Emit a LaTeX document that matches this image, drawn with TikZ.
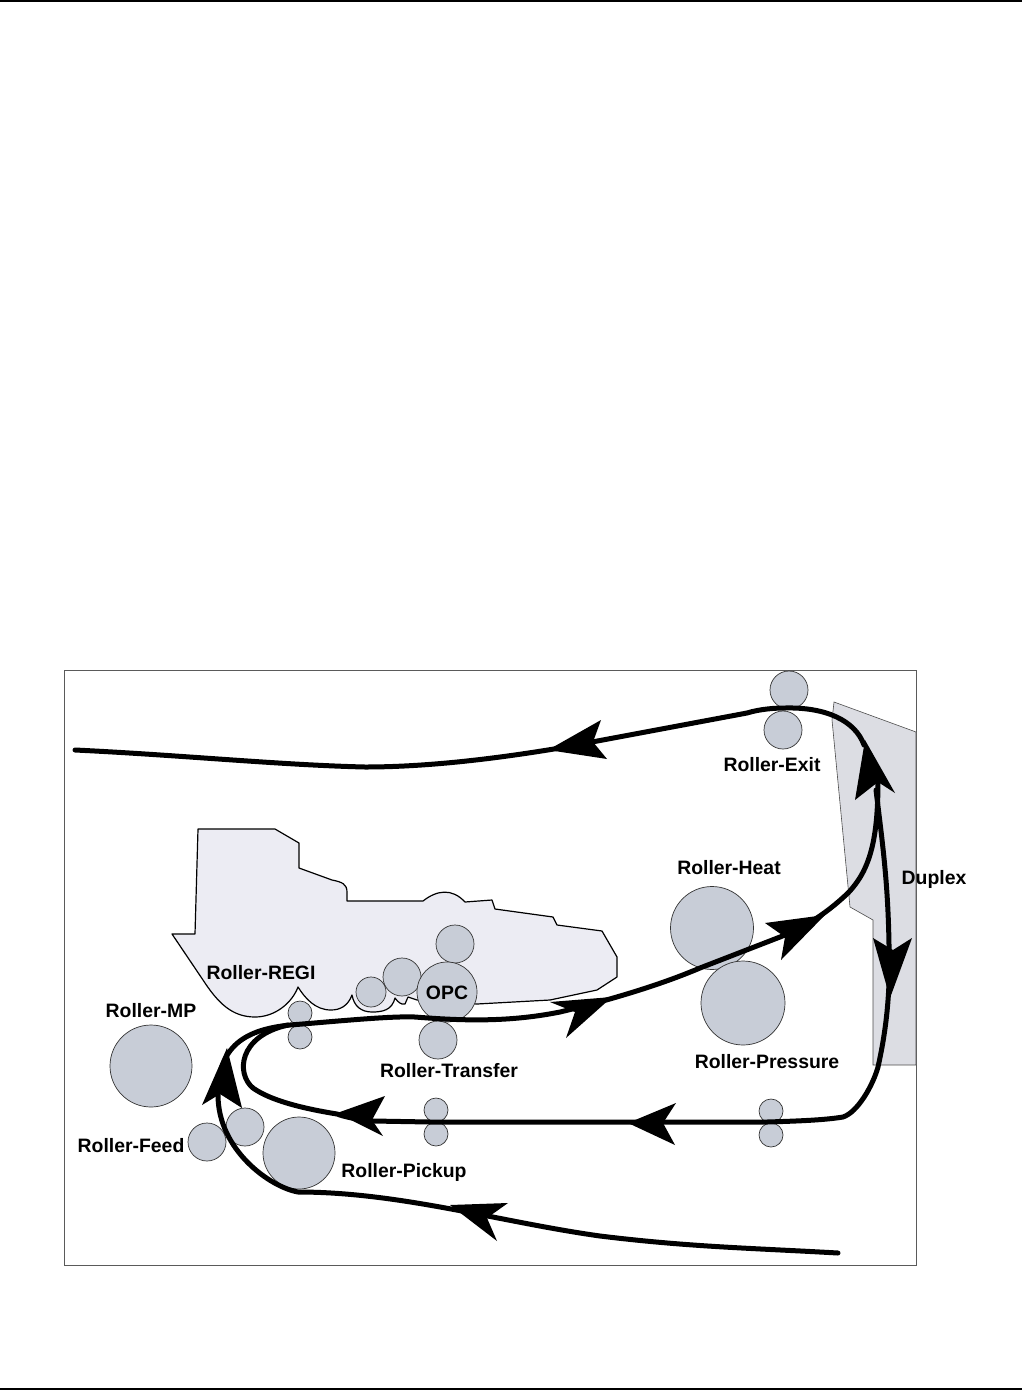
\documentclass[tikz,border=0pt]{standalone}
\usepackage{fontspec}
\setmainfont{Liberation Sans}
\usetikzlibrary{positioning}
\definecolor{roller-gray}{RGB}{200,205,215}
\definecolor{unit-gray}{RGB}{236,236,243}
\definecolor{duplex-gray}{RGB}{220,221,227}
\definecolor{frame-gray}{RGB}{90,90,90}
\begin{document}
\begin{tikzpicture}[
    x=1pt, y=-1pt,
    %% Roller circle, size given per node
    roller/.style = {circle, draw=black!80, fill=roller-gray, line width=0.7pt, inner sep=0pt},
    %% Printed name of a part
    lbl/.style    = {font=\fontsize{19.4}{21}\selectfont\bfseries, inner sep=0pt, align=center},
    %% Housing outlines
    unit/.style   = {draw=black, fill=unit-gray, line width=1.2pt, line join=round},
    duplex/.style = {draw=black!70, fill=duplex-gray, line width=0.6pt},
    %% Paper path and its barbed heads
    flow/.style   = {draw=black, line width=5pt, line cap=round, line join=round},
    barb/.style   = {fill=black},
]
\useasboundingbox (0,0) rectangle (1022,1391);

%% ---- Page rules and frame ----
\draw[line width=1.6pt] (0,1) -- (1022,1);
\draw[line width=1.6pt] (0,1389) -- (1022,1389);
\draw[frame-gray, line width=1pt] (64,670) rectangle (916,1265);

%% ---- Duplex housing ----
\path[duplex] (834,702) -- (916,732) -- (916,1065) -- (873,1065) -- (873,920)
    -- (850,907) -- (832,720) -- cycle;

%% ---- Cartridge housing ----
\path[unit] (198,829) -- (275,829) -- (299,843) -- (299,868) -- (332,880)
    .. controls (342,882) and (347,884) .. (347,892) -- (347,901) -- (423,901)
    .. controls (437,890) and (452,888) .. (465,902)
    -- (492,900) -- (495,909) -- (553,917) -- (557,925) -- (602,931)
    -- (617,957) -- (617,977) -- (597,990) -- (550,1000) -- (477,1004) -- (417,1000)
    -- (408,997) -- (405,1004) .. controls (401,1005) and (398,1002) .. (395,998)
    .. controls (392,1010) and (383,1012) .. (372,1012)
    .. controls (361,1012) and (354,1006) .. (352,995)
    .. controls (348,1006) and (340,1010) .. (331,1010)
    .. controls (315,1010) and (305,998) .. (298,987)
    .. controls (292,1003) and (275,1017) .. (255,1017)
    .. controls (232,1017) and (218,1003) .. (203,980)
    -- (172,934) -- (195,934) -- cycle;

%% ---- Rollers ----
\node[roller, minimum size=38pt] (exitup)   at (789,690)  {};
\node[roller, minimum size=38pt] (exitlow)  at (783,730)  {};
\node[roller, minimum size=83pt] (heat)     at (712,928)  {};
\node[roller, minimum size=84pt] (pressure) at (743,1003) {};
\node[roller, minimum size=38pt] (charge)   at (455,944)  {};
\node[roller, minimum size=38pt] (develop)  at (402,977)  {};
\node[roller, minimum size=30pt] (supply)   at (371,992)  {};
\node[roller, minimum size=38pt] (transfer) at (438,1040) {};
\node[roller, minimum size=60pt] (opc)      at (447,992)  {};
\node[roller, minimum size=24pt] (regiup)   at (300,1013) {};
\node[roller, minimum size=24pt] (regilow)  at (300,1037) {};
\node[roller, minimum size=82pt] (mp)       at (151,1066) {};
\node[roller, minimum size=38pt] (feed)     at (207,1142) {};
\node[roller, minimum size=38pt] (forward)  at (245,1127) {};
\node[roller, minimum size=72pt] (pickup)   at (299,1153) {};
\node[roller, minimum size=24pt] (midup)    at (436,1110) {};
\node[roller, minimum size=24pt] (midlow)   at (436,1134) {};
\node[roller, minimum size=24pt] (rightup)  at (771,1111) {};
\node[roller, minimum size=24pt] (rightlow) at (771,1135) {};

%% ---- Paper paths ----
\draw[flow] (838,1253) .. controls (750,1248) and (690,1247) .. (600,1236)
    .. controls (500,1222) and (400,1192) .. (298,1192)
    .. controls (270,1187) and (218,1150) .. (218,1095)
    .. controls (218,1050) and (240,1030) .. (290,1025)
    .. controls (340,1021) and (390,1016) .. (415,1017)
    .. controls (465,1021) and (510,1022) .. (560,1012)
    .. controls (610,1000) and (660,985) .. (700,968) -- (780,937)
    .. controls (810,925) and (830,910) .. (848,893)
    .. controls (870,870) and (878,840) .. (878,780);
\draw[flow] (75,750) .. controls (180,755) and (280,765) .. (365,767)
    .. controls (430,767) and (500,758) .. (560,748) -- (747,713)
    .. controls (760,709) and (775,708) .. (785,708)
    .. controls (825,707) and (855,720) .. (864,745);
\draw[flow] (876,790) .. controls (882,840) and (888,880) .. (889,945)
    .. controls (891,1000) and (884,1040) .. (878,1067)
    .. controls (873,1085) and (858,1112) .. (843,1117)
    .. controls (825,1120) and (800,1121) .. (767,1122) -- (430,1122) -- (373,1121)
    .. controls (355,1119) and (345,1117) .. (337,1114)
    .. controls (300,1108) and (270,1100) .. (253,1088)
    .. controls (236,1074) and (238,1036) .. (288,1025);

%% ---- Arrow heads ----
\foreach \tx/\ty/\ax/\ay/\nx/\ny/\bx/\by in {
    548/750/601/720/593/742/607/759,
    612/997/550/1002/575/1012/566/1038,
    825/915/765/923/785/937/781/960,
    865/740/855/800/878/782/895/793,
    890/998/873/938/893/950/912/938,
    628/1123/676/1103/663/1123/675/1145,
    337/1113/385/1096/372/1120/383/1136,
    450/1205/508/1203/487/1218/497/1241,
    227/1048/202/1105/220/1094/242/1108}
  \fill[barb] (\tx,\ty) -- (\ax,\ay) -- (\nx,\ny) -- (\bx,\by) -- cycle;

%% ---- Labels ----
\node[lbl] (lexit)     at (772,765)  {Roller-Exit};
\node[lbl] (lheat)     at (729,868)  {Roller-Heat};
\node[lbl] (lduplex)   at (934,879)  {Duplex};
\node[lbl] (lregi)     at (261,973)  {Roller-REGI};
\node[lbl] (lopc)      at (447,993)  {OPC};
\node[lbl] (lmp)       at (151,1011) {Roller-MP};
\node[lbl] (ltransfer) at (449,1071) {Roller-Transfer};
\node[lbl] (lpressure) at (767,1062) {Roller-Pressure};
\node[lbl] (lfeed)     at (131,1146) {Roller-Feed};
\node[lbl] (lpickup)   at (404,1172) {Roller-Pickup};

\end{tikzpicture}
\end{document}
